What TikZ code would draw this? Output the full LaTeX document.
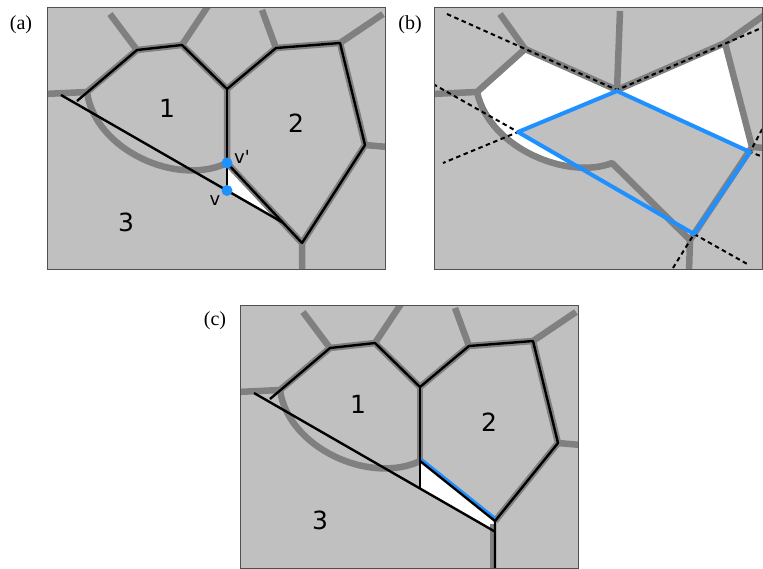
\documentclass[tikz,border=0pt]{standalone}
\usepackage{xcolor}
\usepackage{tikz}
\usepackage{fontspec}
\setmainfont{Liberation Serif}
\newfontfamily\cellfont{DejaVu Sans}
\definecolor{CellGray}{RGB}{192,192,192}
\definecolor{EdgeGray}{RGB}{128,128,128}
\definecolor{FrameGray}{RGB}{80,80,80}
\definecolor{HullBlue}{RGB}{30,144,255}

\begin{document}
\begin{tikzpicture}[x=1pt,y=-1pt,
    panelframe/.style={draw=FrameGray,line width=0.9pt},
    oldedge/.style={draw=EdgeGray,line width=6.5pt,line join=round},
    newedge/.style={draw=black,line width=2.4pt,line join=round},
    rayline/.style={draw=black,line width=2pt,dash pattern=on 4.5pt off 3.5pt},
    hulledge/.style={draw=HullBlue,line width=4pt,line join=round},
    cellnum/.style={font=\cellfont\fontsize{25}{25}\selectfont},
    vlabel/.style={font=\cellfont\fontsize{18}{18}\selectfont},
    tag/.style={font=\fontsize{20}{20}\selectfont},
    vdot/.style={circle,fill=HullBlue,inner sep=0pt,minimum size=11pt}]
  \useasboundingbox (0,0) rectangle (763,568);

  % (a)
  \node[tag] (tag-a) at (21,25) {(a)};
  \begin{scope}
    \clip (47,7) rectangle (385,269);
    \fill[CellGray] (47,7) rectangle (385,269);
    \coordinate (a-s) at (61,95);
    \coordinate (a-t) at (77,101);
    \coordinate (a-p1) at (87,92);
    \coordinate (a-p2) at (137,50);
    \coordinate (a-p3) at (182,45);
    \coordinate (a-p4) at (227,89);
    \coordinate (a-p5) at (276,48);
    \coordinate (a-p6) at (340,43);
    \coordinate (a-p7) at (365,145);
    \coordinate (a-p8) at (302,243);
    \coordinate (a-vp) at (227,163);
    \coordinate (a-v) at (227,190.5);
    \coordinate (a-end) at (intersection of a-vp--a-p8 and a-s--a-v);
    \fill[white] (a-vp) -- (a-v) -- (a-end) -- cycle;
    \draw[oldedge] (44,94) -- (a-p1) -- (a-p2) -- (a-p3) -- (a-p4) -- (a-p5)
      -- (a-p6) -- (a-p7) -- (a-p8) -- (302,272);
    \draw[oldedge] (a-p2) -- (110,14);
    \draw[oldedge] (a-p3) -- (208,6);
    \draw[oldedge] (a-p5) -- (262,10);
    \draw[oldedge] (a-p6) -- (383,14);
    \draw[oldedge] (a-p7) -- (388,147);
    \draw[oldedge] (a-p4) -- (a-vp) -- (a-p8);
    \draw[oldedge] (a-p1) .. controls (95,150) and (177,187) .. (a-vp);
    \draw[newedge] (a-t) -- (a-p2) -- (a-p3) -- (a-p4) -- (a-p5) -- (a-p6)
      -- (a-p7) -- (a-p8) -- (a-vp);
    \draw[newedge] (a-p4) -- (a-v);
    \draw[newedge] (a-s) -- (a-end);
  \end{scope}
  \draw[panelframe] (47,7) rectangle (385,269);
  \node[vdot] (dot-vp) at (a-vp) {};
  \node[vdot] (dot-v) at (a-v) {};
  \node[vlabel] (lab-vp) at (242,157) {v'};
  \node[vlabel] (lab-v) at (215,201) {v};
  \node[cellnum] (a-one) at (167,108) {1};
  \node[cellnum] (a-two) at (296,123) {2};
  \node[cellnum] (a-three) at (126,222) {3};

  % (b)
  \node[tag] (tag-b) at (410,25) {(b)};
  \begin{scope}
    \clip (434,7) rectangle (762.5,269);
    \fill[CellGray] (434,7) rectangle (763,269);
    \coordinate (b-p1) at (477,92);
    \coordinate (b-p2) at (525,49);
    \coordinate (b-p3) at (617,90);
    \coordinate (b-p4) at (725,43);
    \coordinate (b-p5) at (752,147);
    \coordinate (b-p6) at (690,240);
    \coordinate (b-p7) at (612,163);
    \coordinate (b-q1) at (518,132);
    \coordinate (b-q2) at (617,91);
    \coordinate (b-q3) at (750,152);
    \coordinate (b-q4) at (694,234);
    % region left free
    \fill[white] (b-p1) -- (b-p2) -- (b-p3) -- (b-p4) -- (b-p5) -- (b-p6)
      -- (b-p7) .. controls (570,180) and (490,150) .. (b-p1) -- cycle;
    \fill[CellGray] (b-q1) -- (b-q2) -- (b-q3) -- (b-q4) -- cycle;
    \draw[oldedge] (431,94) -- (b-p1) -- (b-p2) -- (b-p3) -- (b-p4) -- (b-p5)
      -- (b-p6) -- (b-p7) .. controls (570,180) and (490,150) .. (b-p1);
    \draw[oldedge] (b-p2) -- (500,14);
    \draw[oldedge] (b-p3) -- (620,11);
    \draw[oldedge] (b-p4) -- (766,14);
    \draw[oldedge] (b-p5) -- (766,148);
    \draw[oldedge] (b-p6) -- (689,272);
    \draw[rayline] (447,14) -- (b-p3) -- (766,26);
    \draw[rayline] (433,84) -- (b-q1) -- (443,163);
    \draw[rayline] (766,122) -- (b-q3) -- (766,158);
    \draw[rayline] (673,268) -- (b-q4) -- (749,265);
    \draw[hulledge] (b-q1) -- (b-q2) -- (b-q3) -- (b-q4) -- cycle;
  \end{scope}
  \draw[panelframe] (434,7) rectangle (762.5,269);

  % (c)
  \node[tag] (tag-c) at (215,321) {(c)};
  \begin{scope}[shift={(193,298)}]
    \clip (47,7) rectangle (385,270);
    \fill[CellGray] (47,7) rectangle (385,270);
    \coordinate (c-s) at (61,95);
    \coordinate (c-t) at (77,101);
    \coordinate (c-p1) at (87,92);
    \coordinate (c-p2) at (137,50);
    \coordinate (c-p3) at (182,45);
    \coordinate (c-p4) at (227,89);
    \coordinate (c-p5) at (276,48);
    \coordinate (c-p6) at (340,43);
    \coordinate (c-p7) at (365,145);
    \coordinate (c-p8) at (302,223);
    \coordinate (c-b) at (302,272);
    \coordinate (c-vp) at (227,163);
    \coordinate (c-v) at (227,190.5);
    \coordinate (c-q) at (intersection of c-s--c-v and c-p8--c-b);
    \fill[white] (c-vp) -- (c-v) -- (c-q) -- (c-p8) -- cycle;
    \draw[oldedge] (44,94) -- (c-p1) -- (c-p2) -- (c-p3) -- (c-p4) -- (c-p5)
      -- (c-p6) -- (c-p7) -- (c-p8);
    \draw[oldedge] (300,226) -- (300,272);
    \draw[oldedge] (c-p2) -- (110,14);
    \draw[oldedge] (c-p3) -- (208,6);
    \draw[oldedge] (c-p5) -- (262,10);
    \draw[oldedge] (c-p6) -- (383,14);
    \draw[oldedge] (c-p7) -- (388,147);
    \draw[oldedge] (c-p4) -- (c-vp);
    \draw[oldedge] (c-p1) .. controls (95,150) and (177,187) .. (c-vp);
    \draw[hulledge,line width=2.6pt] ([xshift=1.5pt,yshift=1.8pt]c-vp)
      -- ([xshift=1.5pt,yshift=1.8pt]c-p8);
    \draw[newedge] (c-t) -- (c-p2) -- (c-p3) -- (c-p4) -- (c-p5) -- (c-p6)
      -- (c-p7) -- (c-p8) -- (c-b);
    \draw[newedge] (c-p8) -- (c-vp);
    \draw[newedge] (c-p4) -- (c-v);
    \draw[newedge] (c-s) -- (c-q);
  \end{scope}
  \draw[panelframe] (240,305) rectangle (578,568);
  \node[cellnum] (c-one) at (358,404) {1};
  \node[cellnum] (c-two) at (489,422) {2};
  \node[cellnum] (c-three) at (320,520) {3};
\end{tikzpicture}
\end{document}
